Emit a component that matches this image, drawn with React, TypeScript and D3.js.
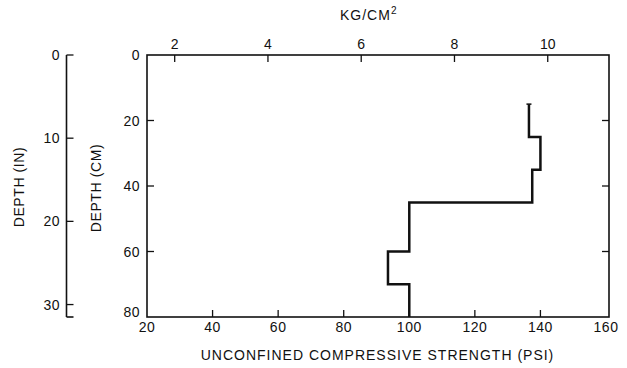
import React from "react";
import * as d3 from "d3";

const psiTicks = [20, 40, 60, 80, 100, 120, 140, 160];
const kgTicks = [2, 4, 6, 8, 10];
const cmTicks = [0, 20, 40, 60, 80];
const inTicks = [0, 10, 20, 30];
const depthBreaks = [15, 25, 35, 45, 60, 70, 80];
const psiValues = [136.5, 140, 137.5, 100, 93.5, 100];
const PSI_PER_KG = 14.223;

const W = 627;
const H = 368;
const FONT = "'Liberation Sans', Arial, sans-serif";

export default function App() {
  const x = d3.scaleLinear().domain([20, 160]).range([147, 606]);
  const y = d3.scaleLinear().domain([0, 80]).range([55, 317]);
  const yIn = d3.scaleLinear().domain([0, 80 / 2.54]).range([55, 317]);
  const left = 147, right = 609, top = 55, bottom = 317;
  const inX = 66.5;
  const tk = 7;

  const pts: [number, number][] = [];
  psiValues.forEach((v, i) => {
    pts.push([v, depthBreaks[i]]);
    pts.push([v, depthBreaks[i + 1]]);
  });
  const line = d3.line<[number, number]>().x((d) => x(d[0])).y((d) => y(d[1]));

  const ts = { fontFamily: FONT, fontSize: 14, fill: "#111" } as const;

  return (
    <svg width={W} height={H} style={{ position: "absolute", left: 0, top: 0, background: "#fff" }}>
      <rect x={0} y={0} width={W} height={H} fill="#fff" />
      {/* main frame */}
      <rect x={left} y={top} width={right - left} height={bottom - top} fill="none" stroke="#111" strokeWidth={1.6} />
      {/* bottom ticks */}
      {psiTicks.map((t) => (
        <g key={"b" + t}>
          {t > 20 && t < 160 && <line x1={x(t)} x2={x(t)} y1={bottom} y2={bottom - tk} stroke="#111" strokeWidth={1.3} />}
          <text x={x(t)} y={332} textAnchor="middle" {...ts} letterSpacing={0.5}>{t}</text>
        </g>
      ))}
      {/* top ticks kg/cm2 */}
      {kgTicks.map((t) => (
        <g key={"t" + t}>
          <line x1={x(t * PSI_PER_KG)} x2={x(t * PSI_PER_KG)} y1={top} y2={top + tk} stroke="#111" strokeWidth={1.3} />
          <text x={x(t * PSI_PER_KG)} y={49} textAnchor="middle" {...ts}>{t}</text>
        </g>
      ))}
      {/* left & right ticks cm */}
      {cmTicks.map((t) => (
        <g key={"l" + t}>
          {t > 0 && t < 80 && <line x1={left} x2={left + tk} y1={y(t)} y2={y(t)} stroke="#111" strokeWidth={1.3} />}
          {t > 0 && t < 80 && <line x1={right} x2={right - tk} y1={y(t)} y2={y(t)} stroke="#111" strokeWidth={1.3} />}
          <text x={140} y={t === 80 ? y(t) : y(t) + 5} textAnchor="end" {...ts} letterSpacing={0.5}>{t}</text>
        </g>
      ))}
      {/* inch axis */}
      <line x1={inX} x2={inX} y1={yIn(0)} y2={bottom} stroke="#111" strokeWidth={1.6} />
      <line x1={inX} x2={inX + tk} y1={bottom} y2={bottom} stroke="#111" strokeWidth={1.6} />
      {inTicks.map((t) => (
        <g key={"i" + t}>
          <line x1={inX} x2={inX + tk} y1={yIn(t)} y2={yIn(t)} stroke="#111" strokeWidth={1.3} />
          <text x={60} y={yIn(t) + 5} textAnchor="end" {...ts} letterSpacing={0.5}>{t}</text>
        </g>
      ))}
      {/* step line */}
      <path d={line(pts) || ""} fill="none" stroke="#111" strokeWidth={2.5} strokeLinejoin="miter" />
      <line x1={x(psiValues[0]) - 2.5} x2={x(psiValues[0]) + 2.5} y1={y(depthBreaks[0])} y2={y(depthBreaks[0])} stroke="#111" strokeWidth={1.5} />
      {/* titles */}
      <text x={377.5} y={360} textAnchor="middle" {...ts} letterSpacing={1}>UNCONFINED COMPRESSIVE STRENGTH (PSI)</text>
      <text x={340} y={20} {...ts} letterSpacing={1}>
        KG/CM<tspan dy={-6} fontSize={10}>2</tspan>
      </text>
      <text transform="translate(24,187) rotate(-90)" textAnchor="middle" {...ts} letterSpacing={0.6}>DEPTH (IN)</text>
      <text transform="translate(101,188) rotate(-90)" textAnchor="middle" {...ts} letterSpacing={0.6}>DEPTH (CM)</text>
    </svg>
  );
}
